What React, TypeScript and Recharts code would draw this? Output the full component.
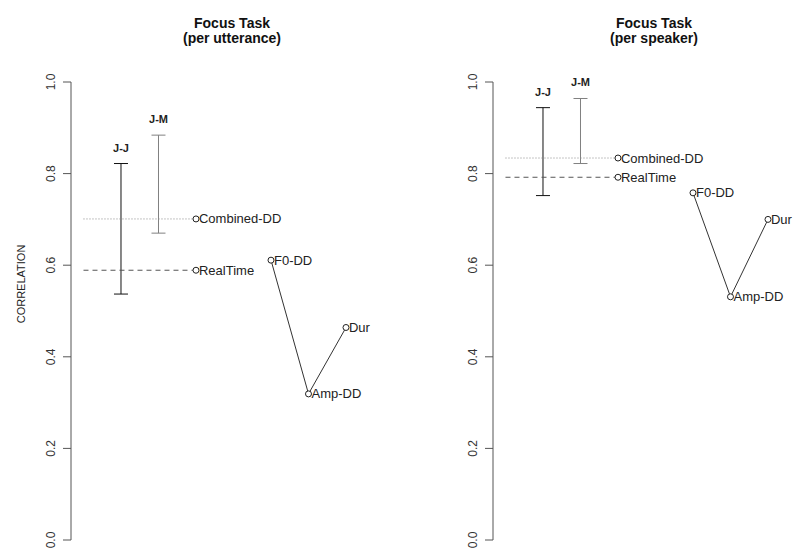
import React from 'react';
import { ScatterChart, Scatter, XAxis, YAxis, ErrorBar, Label } from 'recharts';

// judge agreement ranges (low / high) per panel
const judgeNames = ['J-J', 'J-M'];
const utterJudgeLow = [0.537, 0.670];
const utterJudgeHigh = [0.822, 0.884];
const speakerJudgeLow = [0.752, 0.822];
const speakerJudgeHigh = [0.944, 0.964];

// reference measures drawn as horizontal lines
const refNames = ['Combined-DD', 'RealTime'];
const utterRef = [0.701, 0.589];
const speakerRef = [0.834, 0.792];

// acoustic features joined by a line
const featureNames = ['F0-DD', 'Amp-DD', 'Dur'];
const utterFeature = [0.611, 0.319, 0.464];
const speakerFeature = [0.758, 0.531, 0.700];

const yTicks = [0, 0.2, 0.4, 0.6, 0.8, 1.0];

const FONT = '"Liberation Sans", Arial, Helvetica, sans-serif';
const judgeColors = ['#111', '#808080'];

const RotTick = ({ x, y, payload }: any) => (
  <text
    x={x}
    y={y}
    transform={`rotate(-90 ${x} ${y})`}
    textAnchor="middle"
    fontSize={12}
    fontFamily={FONT}
    fill="#333"
  >
    {Number(payload.value).toFixed(1)}
  </text>
);

const openDot = (props: any) => {
  const { cx, cy, payload } = props;
  if (!payload.name) return <g />;
  return (
    <g>
      <circle cx={cx} cy={cy} r={3} fill="#fff" stroke="#222" strokeWidth={1} />
      <text x={cx + 3} y={cy + 4.5} fontSize={13} fontFamily={FONT} fill="#222">
        {payload.name}
      </text>
    </g>
  );
};

const judgeLabel = (props: any) => {
  const { cx, cy, payload } = props;
  return (
    <text x={cx} y={cy - 12} textAnchor="middle" fontSize={11} fontWeight="bold" fontFamily={FONT} fill="#222">
      {payload.name}
    </text>
  );
};

interface PanelProps {
  title: string;
  sub: string;
  judgeLow: number[];
  judgeHigh: number[];
  refVals: number[];
  featVals: number[];
  left: number;
  yLabel?: boolean;
}

const titleStyle: React.CSSProperties = {
  position: 'absolute',
  left: 132,
  width: 200,
  textAlign: 'center',
  fontFamily: FONT,
  fontWeight: 'bold',
  fontSize: 14,
  lineHeight: '14px',
  color: '#111',
};

const Panel: React.FC<PanelProps> = ({ title, sub, judgeLow, judgeHigh, refVals, featVals, left, yLabel }) => {
  const judges = judgeNames.map((n, i) => ({
    name: n,
    x: i,
    y: judgeHigh[i],
    err: [judgeHigh[i] - judgeLow[i], 0],
  }));
  const refs = refNames.map((n, i) => [
    { x: -1, y: refVals[i] },
    { x: 2, y: refVals[i], name: n },
  ]);
  const feats = featureNames.map((n, i) => ({ name: n, x: 4 + i, y: featVals[i] }));

  return (
    <div style={{ position: 'absolute', left, top: 0, width: 378, height: 557 }}>
      <div style={{ ...titleStyle, top: 16 }}>{title}</div>
      <div style={{ ...titleStyle, top: 31 }}>{sub}</div>
      <ScatterChart width={378} height={557} margin={{ top: 82, right: 9.5, bottom: 17, left: 0 }}>
        <XAxis type="number" dataKey="x" domain={[-1.3333, 6.6]} hide />
        <YAxis
          type="number"
          dataKey="y"
          domain={[0, 1]}
          ticks={yTicks}
          width={71}
          tickSize={8}
          tickMargin={8}
          tick={<RotTick />}
          stroke="#555"
        >
          {yLabel && (
            <Label
              content={() => (
                <text
                  x={25}
                  y={284}
                  transform="rotate(-90 25 284)"
                  textAnchor="middle"
                  fontSize={11}
                  fontFamily={FONT}
                  fill="#222"
                >
                  CORRELATION
                </text>
              )}
            />
          )}
        </YAxis>
        <Scatter
          data={refs[0]}
          line={{ stroke: '#888', strokeDasharray: '1 2', strokeWidth: 1 }}
          shape={openDot}
          isAnimationActive={false}
        />
        <Scatter
          data={refs[1]}
          line={{ stroke: '#555', strokeDasharray: '5 4', strokeWidth: 1 }}
          shape={openDot}
          isAnimationActive={false}
        />
        {judges.map((j, i) => (
          <Scatter key={j.name} data={[j]} shape={judgeLabel} isAnimationActive={false}>
            <ErrorBar dataKey="err" direction="y" width={7} stroke={judgeColors[i]} strokeWidth={1} isAnimationActive={false} />
          </Scatter>
        ))}
        <Scatter
          data={feats}
          line={{ stroke: '#333', strokeWidth: 1 }}
          shape={openDot}
          isAnimationActive={false}
        />
      </ScatterChart>
    </div>
  );
};

export default function App() {
  return (
    <div style={{ position: 'absolute', left: 0, top: 0, width: 800, height: 557, background: '#fff' }}>
      <Panel
        title="Focus Task"
        sub="(per utterance)"
        judgeLow={utterJudgeLow}
        judgeHigh={utterJudgeHigh}
        refVals={utterRef}
        featVals={utterFeature}
        left={0}
        yLabel
      />
      <Panel
        title="Focus Task"
        sub="(per speaker)"
        judgeLow={speakerJudgeLow}
        judgeHigh={speakerJudgeHigh}
        refVals={speakerRef}
        featVals={speakerFeature}
        left={422}
      />
    </div>
  );
}
